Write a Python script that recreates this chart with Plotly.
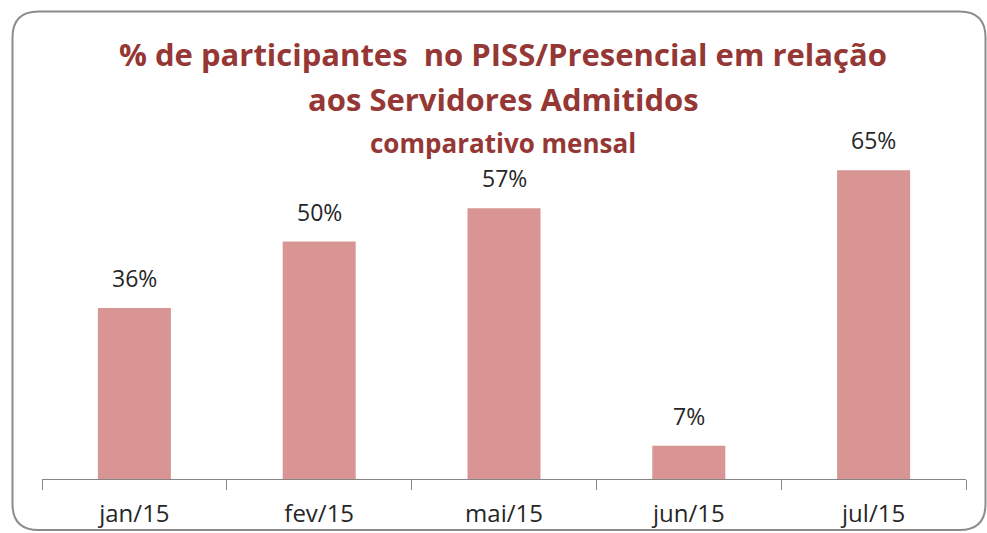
import plotly.graph_objects as go

months = ["jan/15", "fev/15", "mai/15", "jun/15", "jul/15"]
values = [0.36, 0.50, 0.57, 0.07, 0.65]
labels = ["36%", "50%", "57%", "7%", "65%"]

W, H = 987, 533
L, R, T, B = 42, 21, 146, 54
pw, ph = W - L - R, H - T - B

def px(x):
    return (x - L) / pw

def py(y):
    return (H - B - y) / ph

bar_color = "#D99594"
title_color = "#953735"
font_family = "Open Sans, Noto Sans, DejaVu Sans"

fig = go.Figure()
fig.add_trace(go.Bar(x=months, y=values, marker=dict(color=bar_color, line=dict(width=0)),
                     hoverinfo="skip"))

for m, v, t in zip(months, values, labels):
    fig.add_annotation(x=m, y=v, text=t, showarrow=False, yanchor="bottom", yshift=12,
                       font=dict(family=font_family, size=23, color="#262626"))

# titles
fig.add_annotation(xref="paper", yref="paper", x=px(503), y=py(54), text="<b>% de participantes  no PISS/Presencial em relação</b>",
                   showarrow=False, xanchor="center", yanchor="middle",
                   font=dict(family=font_family, size=31, color=title_color))
fig.add_annotation(xref="paper", yref="paper", x=px(503), y=py(99), text="<b>aos Servidores Admitidos</b>",
                   showarrow=False, xanchor="center", yanchor="middle",
                   font=dict(family=font_family, size=31, color=title_color))
fig.add_annotation(xref="paper", yref="paper", x=px(503), y=py(143), text="<b>comparativo mensal</b>",
                   showarrow=False, xanchor="center", yanchor="middle",
                   font=dict(family=font_family, size=26, color=title_color))

# rounded border
x0, y0, x1, y1, r = 12.5, 11.5, 985.5, 530, 26
path = (f"M {px(x0+r)},{py(y0)} L {px(x1-r)},{py(y0)} "
        f"Q {px(x1)},{py(y0)} {px(x1)},{py(y0+r)} L {px(x1)},{py(y1-r)} "
        f"Q {px(x1)},{py(y1)} {px(x1-r)},{py(y1)} L {px(x0+r)},{py(y1)} "
        f"Q {px(x0)},{py(y1)} {px(x0)},{py(y1-r)} L {px(x0)},{py(y0+r)} "
        f"Q {px(x0)},{py(y0)} {px(x0+r)},{py(y0)} Z")
fig.add_shape(type="path", xref="paper", yref="paper", path=path,
              line=dict(color="#8C8C8C", width=2), layer="below")

fig.update_layout(
    width=W, height=H,
    margin=dict(l=L, r=R, t=T, b=B, autoexpand=False),
    paper_bgcolor="white", plot_bgcolor="white",
    bargap=0.605,
    showlegend=False,
    xaxis=dict(showline=True, linecolor="#868686", linewidth=1, ticks="outside",
               tickson="boundaries", ticklen=10, tickcolor="#868686", showgrid=False,
               ticklabelstandoff=13, automargin=False, fixedrange=True,
               tickfont=dict(family=font_family, size=24, color="#262626")),
    yaxis=dict(range=[0, ph / 4.75 / 100], visible=False, showgrid=False, zeroline=False,
               automargin=False, fixedrange=True),
)

fig.write_html("out.html", config={"displayModeBar": False},
               post_script="document.body.style.margin='0';document.body.style.overflow='hidden';")
